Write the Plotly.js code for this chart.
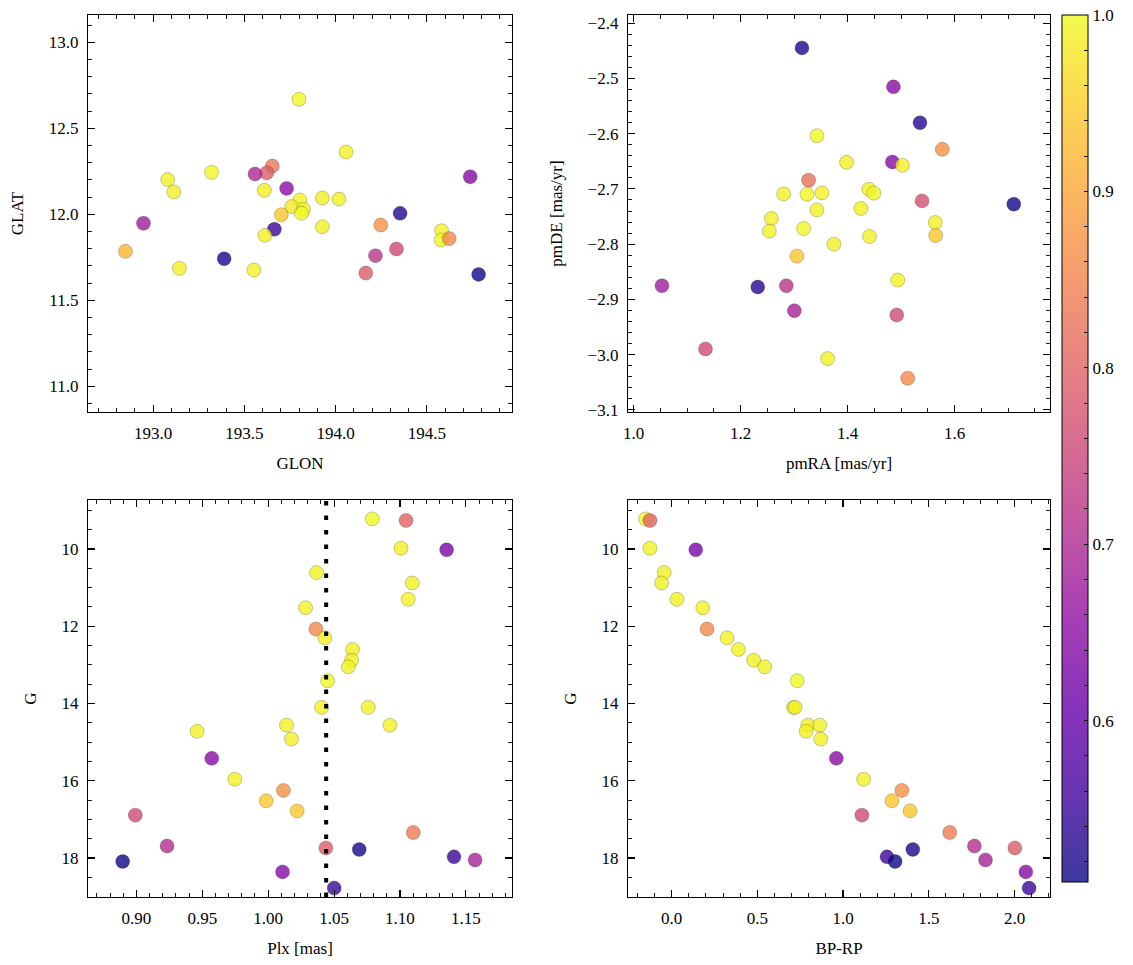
<!DOCTYPE html>
<html><head><meta charset="utf-8">
<script src="https://cdn.plot.ly/plotly-3.0.1.min.js"></script>
<style>html,body{margin:0;padding:0;background:#fff}#chart{width:1133px;height:965px}</style>
</head><body><div id="chart"></div>
<script>
// ---- Panel 1: sky positions ----
const glon = [193.799,193.653,193.623,193.558,193.320,193.080,193.113,193.731,193.609,193.804,193.759,193.823,193.813,193.702,193.664,193.612,192.947,192.848,193.389,193.144,193.552,194.057,193.927,194.018,193.927,194.737,194.353,194.247,194.580,194.578,194.622,194.333,194.218,194.165,194.783];
const glat = [12.669,12.281,12.242,12.235,12.244,12.202,12.130,12.151,12.140,12.083,12.045,12.030,12.006,11.998,11.913,11.878,11.948,11.785,11.742,11.686,11.676,12.362,12.095,12.089,11.928,12.219,12.006,11.938,11.905,11.851,11.859,11.799,11.760,11.659,11.651];
const probSky = [1.00,0.83,0.79,0.70,1.00,0.99,0.99,0.65,0.99,1.00,0.98,0.99,1.00,0.94,0.55,0.99,0.68,0.92,0.52,0.99,0.99,0.99,0.99,0.99,0.99,0.64,0.53,0.87,0.99,1.00,0.86,0.76,0.72,0.79,0.51];

// ---- Panel 2: proper motions ----
const pmra = [1.3147,1.3427,1.398,1.3271,1.2805,1.324,1.352,1.3427,1.2575,1.2537,1.3178,1.3744,1.3053,1.0529,1.232,1.2854,1.3004,1.1343,1.3626,1.4857,1.5354,1.5771,1.4838,1.5025,1.4397,1.449,1.5392,1.7108,1.4248,1.564,1.5647,1.4409,1.4938,1.4919,1.5124];
const pmde = [-2.4446,-2.6036,-2.6518,-2.6843,-2.709,-2.7096,-2.7072,-2.738,-2.7536,-2.7765,-2.7717,-2.8,-2.8217,-2.8753,-2.8777,-2.8753,-2.9205,-2.9898,-3.0072,-2.5151,-2.5801,-2.6283,-2.6512,-2.6572,-2.7006,-2.7078,-2.7217,-2.7277,-2.7355,-2.7608,-2.7843,-2.7861,-2.8651,-2.9283,-3.0428];
const probPM = [0.52,1.00,0.99,0.82,0.99,1.00,0.99,0.99,0.99,0.99,1.00,0.99,0.94,0.68,0.53,0.72,0.69,0.76,0.99,0.65,0.53,0.87,0.64,0.99,0.99,1.00,0.77,0.51,0.99,0.99,0.94,0.99,0.99,0.76,0.86];

// ---- Panels 3 & 4: parallax / photometry ----
const gmag = [9.22,9.26,9.98,10.02,10.61,10.88,11.30,11.52,12.07,12.30,12.60,12.88,13.05,13.41,14.10,14.10,14.56,14.56,14.72,14.92,15.42,15.96,16.25,16.52,16.78,16.89,17.34,17.69,17.74,17.78,17.97,18.05,18.09,18.36,18.78];
const plx = [1.079,1.1046,1.1008,1.1354,1.0367,1.1094,1.1063,1.0284,1.0362,1.0430,1.064,1.0633,1.0608,1.0451,1.0405,1.0759,1.0924,1.0139,0.9461,1.0177,0.9572,0.9747,1.0116,0.9985,1.022,0.8992,1.1101,0.9233,1.0438,1.0691,1.141,1.157,0.8896,1.0109,1.0501];
const bprp = [-0.151,-0.126,-0.126,0.141,-0.043,-0.058,0.031,0.182,0.207,0.324,0.390,0.479,0.543,0.733,0.711,0.721,0.795,0.864,0.785,0.870,0.961,1.120,1.343,1.285,1.391,1.110,1.622,1.766,2.002,1.407,1.256,1.831,1.304,2.066,2.085];
const probPhot = [1.00,0.80,0.99,0.63,0.99,0.99,0.99,0.99,0.86,0.99,0.99,0.99,0.99,1.00,0.99,0.99,0.99,0.99,0.99,0.99,0.65,0.99,0.87,0.94,0.94,0.76,0.84,0.71,0.79,0.52,0.55,0.69,0.51,0.64,0.55];
const plxRef = 1.044;

const probMin = 0.5085, probMax = 1.0;

const plasma = [
 [0.0,'rgba(13,8,135,0.8)'],[0.1,'rgba(65,4,157,0.8)'],[0.2,'rgba(106,0,168,0.8)'],
 [0.3,'rgba(143,13,164,0.8)'],[0.4,'rgba(177,42,144,0.8)'],[0.5,'rgba(204,71,120,0.8)'],
 [0.6,'rgba(225,100,98,0.8)'],[0.7,'rgba(242,132,75,0.8)'],[0.8,'rgba(252,166,54,0.8)'],
 [0.9,'rgba(252,206,37,0.8)'],[1.0,'rgba(240,249,33,0.8)']];

const FONT = {family:'Liberation Serif, DejaVu Serif, serif', size:17, color:'#000'};

function mk(x, y, c, xa, ya){
  return {type:'scatter', mode:'markers', x:x, y:y, xaxis:xa, yaxis:ya,
    marker:{size:14, color:c, coloraxis:'coloraxis', line:{color:'rgba(0,0,0,0.35)', width:0.6}},
    hoverinfo:'x+y', showlegend:false};
}

function ax(o){
  const base = {showline:true, linecolor:'#000', linewidth:1.2, mirror:'allticks',
    ticks:'inside', ticklen:7, tickwidth:1.1, tickcolor:'#000',
    showgrid:false, zeroline:false, tickfont:FONT, ticklabelstandoff:5,
    autorange:false};
  const r = Object.assign(base, o);
  r.minor = {ticks:'inside', ticklen:4, tickwidth:0.9, tickcolor:'#000', showgrid:false, dtick:o.minorDtick, tick0:0};
  delete r.minorDtick;
  return r;
}

// plot area: x 88..1050, y 15..897
const PW = 962, PH = 882;
const dx1 = [0, (512-88)/PW], dx2 = [(628-88)/PW, 1];
const dyTop = [1-(412-15)/PH, 1], dyBot = [0, 1-(500-15)/PH];

const cbTicks = [], cbText = [];
for (let i = 26; i <= 50; i++){ const v = i/50; cbTicks.push(v); cbText.push(i%5===0 ? v.toFixed(1) : ''); }

const XT = 15, YT = 20;
const layout = {
  width:1133, height:965, paper_bgcolor:'#fff', plot_bgcolor:'#fff',
  margin:{l:88, r:83, t:15, b:68}, showlegend:false, font:FONT,
  coloraxis:{colorscale:plasma, cmin:probMin, cmax:probMax,
    colorbar:{x:(1062-88)/PW, xanchor:'left', y:1, yanchor:'top', len:(882-15)/PH, lenmode:'fraction',
      thickness:26, thicknessmode:'pixels', outlinewidth:1, outlinecolor:'#000', xpad:0, ypad:0,
      ticks:'inside', ticklen:4, tickwidth:0.9, tickcolor:'#000', tickvals:cbTicks, ticktext:cbText,
      tickfont:FONT}},
  xaxis: ax({domain:dx1, anchor:'y', range:[192.643,194.966], dtick:0.5, tick0:0, tickformat:'.1f', minorDtick:0.1,
    title:{text:'GLON', font:FONT, standoff:XT}}),
  yaxis: ax({domain:dyTop, anchor:'x', range:[10.851,13.159], dtick:0.5, tick0:0, tickformat:'.1f', minorDtick:0.1,
    title:{text:'GLAT', font:FONT, standoff:YT}}),
  xaxis2: ax({domain:dx2, anchor:'y2', range:[0.9894,1.7785], dtick:0.2, tick0:0, tickformat:'.1f', minorDtick:0.05,
    title:{text:'pmRA [mas/yr]', font:FONT, standoff:XT}}),
  yaxis2: ax({domain:dyTop, anchor:'x2', range:[-3.104,-2.385], dtick:0.1, tick0:0, tickformat:'.1f', minorDtick:0.02,
    title:{text:'pmDE [mas/yr]', font:FONT, standoff:YT}}),
  xaxis3: ax({domain:dx1, anchor:'y3', range:[0.8633,1.185], dtick:0.05, tick0:0, tickformat:'.2f', minorDtick:0.01,
    title:{text:'Plx [mas]', font:FONT, standoff:XT}}),
  yaxis3: ax({domain:dyBot, anchor:'x3', range:[19.01,8.73], dtick:2, tick0:0, minorDtick:0.5,
    title:{text:'G', font:FONT, standoff:YT}}),
  xaxis4: ax({domain:dx2, anchor:'y4', range:[-0.254,2.207], dtick:0.5, tick0:0, tickformat:'.1f', minorDtick:0.1,
    title:{text:'BP-RP', font:FONT, standoff:XT}}),
  yaxis4: ax({domain:dyBot, anchor:'x4', range:[19.01,8.73], dtick:2, tick0:0, minorDtick:0.5,
    title:{text:'G', font:FONT, standoff:YT}}),
  shapes:[{type:'line', xref:'x3', yref:'y3 domain', x0:plxRef, x1:plxRef, y0:0, y1:1, layer:'above',
    line:{color:'#000', width:4, dash:'4.5px,10px'}}]
};

const data = [
  mk(glon, glat, probSky, 'x', 'y'),
  mk(pmra, pmde, probPM, 'x2', 'y2'),
  mk(plx, gmag, probPhot, 'x3', 'y3'),
  mk(bprp, gmag, probPhot, 'x4', 'y4')
];
Plotly.newPlot('chart', data, layout, {displayModeBar:false, staticPlot:true});
</script></body></html>
